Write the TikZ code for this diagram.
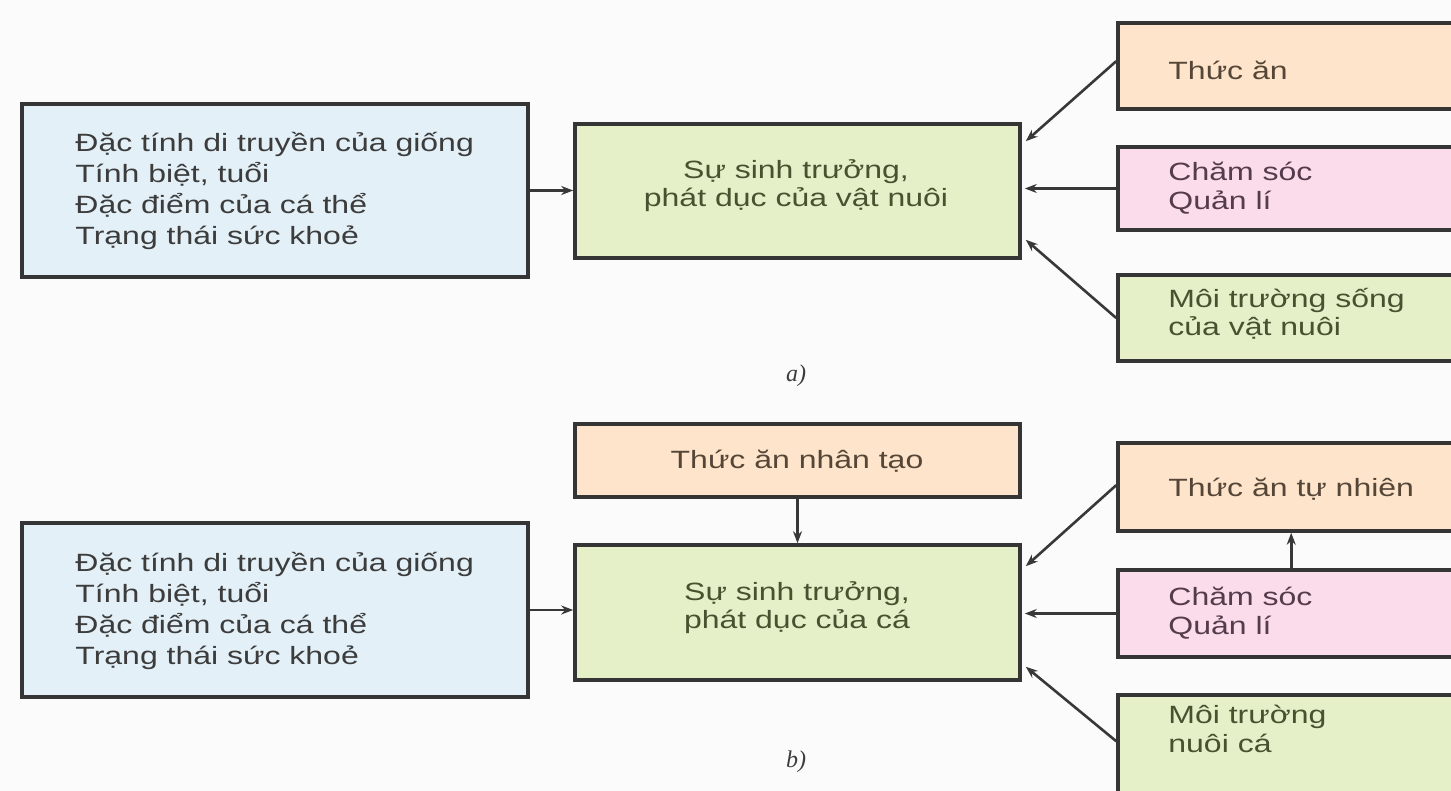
\documentclass[tikz,border=0pt]{standalone}
\usepackage{fontspec}
\setmainfont{Liberation Sans}[FakeStretch=1.28]
\newfontfamily\capfont{Liberation Serif}
\usetikzlibrary{arrows.meta,fit,calc}
\definecolor{bluefill}{HTML}{E3F0F7}
\definecolor{greenfill}{HTML}{E6F0C8}
\definecolor{peachfill}{HTML}{FDE4CA}
\definecolor{pinkfill}{HTML}{FADCEB}
\definecolor{bordercol}{HTML}{353535}
\definecolor{linecol}{HTML}{383838}
\definecolor{textcol}{HTML}{3C3C3C}
\definecolor{greentext}{HTML}{465230}
\definecolor{pinktext}{HTML}{553C4C}
\definecolor{peachtext}{HTML}{554638}
\definecolor{bgcol}{HTML}{FBFBFB}
\begin{document}
\begin{tikzpicture}[x=0.5pt,y=-0.5pt,
  box/.style={draw=bordercol, line width=1.8pt, inner sep=0pt},
  txtL/.style={font=\fontsize{12.5}{15.5}\selectfont, text=textcol, inner sep=0pt, align=left, anchor=west},
  txtR/.style={font=\fontsize{12.5}{14.2}\selectfont, text=textcol, inner sep=0pt, align=left, anchor=west},
  txtC/.style={font=\fontsize{12.5}{14}\selectfont, text=greentext, inner sep=0pt, align=center},
  caplbl/.style={font=\capfont\itshape\fontsize{12}{14}\selectfont, text=textcol, inner sep=0pt},
  arr/.style={draw=linecol, line width=1.3pt, -{Stealth[length=6pt,width=4.5pt]}}]
\clip (0,0) rectangle (1451,791);
\fill[bgcol] (0,0) rectangle (1451,791);

% ---------- a) ----------
\node[box, fill=bluefill, fit={(22,104) (528,277)}] (L1) {};
\node[txtL] (L1t) at (75,191) {Đặc tính di truyền của giống\\Tính biệt, tuổi\\Đặc điểm của cá thể\\Trạng thái sức khoẻ};
\node[box, fill=greenfill, fit={(575,124) (1020,258)}] (M1) {};
\node[txtC] (M1t) at (796,186) {Sự sinh trưởng,\\phát dục của vật nuôi};
\node[box, fill=peachfill, fit={(1118,23) (1475,109)}] (TA1) {};
\node[txtR, text=peachtext] (TA1t) at (1168,70) {Thức ăn};
\node[box, fill=pinkfill, fit={(1118,147) (1475,230)}] (CS1) {};
\node[txtR, text=pinktext] (CS1t) at (1168,188) {Chăm sóc\\Quản lí};
\node[box, fill=greenfill, fit={(1118,275) (1475,361)}] (MT1) {};
\node[txtR, text=greentext] (MT1t) at (1168,314) {Môi trường sống\\của vật nuôi};
\node[caplbl] (capa) at (796,376) {a)};

\draw[arr] (L1.east) -- (L1.east -| M1.west);
\draw[arr] ($(TA1.north west)+(0,40)$) -- ($(M1.north east)+(4,19)$);
\draw[arr] (CS1.west) -- ($(CS1.west -| M1.east)+(3,0)$);
\draw[arr] (MT1.west) -- ($(M1.south east)+(4,-20)$);

% ---------- b) ----------
\node[box, fill=bluefill, fit={(22,523) (528,697)}] (L2) {};
\node[txtL] (L2t) at (75,611) {Đặc tính di truyền của giống\\Tính biệt, tuổi\\Đặc điểm của cá thể\\Trạng thái sức khoẻ};
\node[box, fill=peachfill, fit={(575,424) (1020,497)}] (TAN) {};
\node[txtC, text=peachtext] (TANt) at (797,461) {Thức ăn nhân tạo};
\node[box, fill=greenfill, fit={(575,545) (1020,680)}] (M2) {};
\node[txtC] (M2t) at (797,608) {Sự sinh trưởng,\\phát dục của cá};
\node[box, fill=peachfill, fit={(1118,443) (1475,531)}] (TN2) {};
\node[txtR, text=peachtext] (TN2t) at (1168,489) {Thức ăn tự nhiên};
\node[box, fill=pinkfill, fit={(1118,570) (1475,657)}] (CS2) {};
\node[txtR, text=pinktext] (CS2t) at (1168,613) {Chăm sóc\\Quản lí};
\node[box, fill=greenfill, fit={(1118,695) (1475,810)}] (MT2) {};
\node[txtR, text=greentext] (MT2t) at (1168,729) {Môi trường\\nuôi cá};
\node[caplbl] (capb) at (796,762) {b)};

\draw[arr] (L2.east) -- (L2.east -| M2.west);
\draw[arr] (TAN.south) -- (M2.north);
\draw[arr] ($(TN2.north west)+(0,44)$) -- ($(M2.north east)+(4,23)$);
\draw[arr] (CS2.west) -- ($(CS2.west -| M2.east)+(3,0)$);
\draw[arr] ($(MT2.north west)+(0,48)$) -- ($(M2.south east)+(4,-15)$);
\draw[arr] ($(CS2.north west)+(175,0)$) -- ($(TN2.south west)+(175,0)$);
\end{tikzpicture}
\end{document}
